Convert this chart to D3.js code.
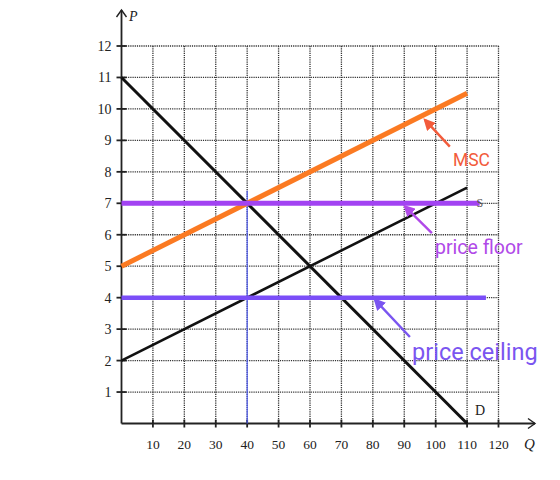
<!DOCTYPE html>
<html><head><meta charset="utf-8">
<script src="https://cdn.jsdelivr.net/npm/d3@7"></script>
<style>html,body{margin:0;padding:0;background:#fff;}svg{display:block;}</style>
</head><body>
<svg id="c" width="560" height="480"></svg>
<script>
// ---- data ----
const xTicks = [10,20,30,40,50,60,70,80,90,100,110,120];
const yTicks = [1,2,3,4,5,6,7,8,9,10,11,12];
const demandQ = [0,110], demandP = [11,0];
const supplyQ = [0,110], supplyP = [2,7.5];
const mscQ = [0,110], mscP = [5,10.5];
const floorQ = [0,114], floorP = [7,7];
const ceilingQ = [0,116], ceilingP = [4,4];
const markQ = [40,40], markP = [0,7.4];
const labels = ["MSC","price floor","price ceiling"];

const svg = d3.select("#c");
const x = d3.scaleLinear().domain([0,120]).range([121.5,498.5]);
const y = d3.scaleLinear().domain([0,12]).range([423.5,46]);

// grid
const g = svg.append("g");
xTicks.forEach(v=>{
  g.append("line").attr("x1",x(v)).attr("x2",x(v)).attr("y1",y(0)).attr("y2",y(12))
   .attr("stroke","#333").attr("stroke-width",1.3).attr("stroke-dasharray","1.2,1");
});
yTicks.forEach(v=>{
  g.append("line").attr("x1",x(0)).attr("x2",x(120)).attr("y1",y(v)).attr("y2",y(v))
   .attr("stroke","#333").attr("stroke-width",1.3).attr("stroke-dasharray","1.2,1");
});

// axes
const ax = svg.append("g").attr("stroke","#222").attr("fill","none");
ax.append("line").attr("x1",x(0)).attr("x2",x(0)).attr("y1",y(0)).attr("y2",10).attr("stroke-width",1.8);
ax.append("path").attr("d",`M${x(0)-5},${17} L${x(0)},${10} L${x(0)+5},${17}`).attr("stroke-width",1.4);
ax.append("line").attr("x1",x(0)).attr("x2",535).attr("y1",y(0)).attr("y2",y(0)).attr("stroke-width",1.8);
ax.append("path").attr("d",`M${528},${y(0)-5} L${535},${y(0)} L${528},${y(0)+5}`).attr("stroke-width",1.4);
yTicks.forEach(v=>{
  ax.append("line").attr("x1",x(0)-5).attr("x2",x(0)+5).attr("y1",y(v)).attr("y2",y(v)).attr("stroke-width",1.8);
});
xTicks.forEach(v=>{
  ax.append("line").attr("x1",x(v)).attr("x2",x(v)).attr("y1",y(0)-4).attr("y2",y(0)+4).attr("stroke-width",1.8);
});
const serif = "'Liberation Serif','DejaVu Serif',serif";
svg.append("g").selectAll("text").data(yTicks).join("text")
  .attr("x",x(0)-10).attr("y",d=>y(d)+5).attr("text-anchor","end")
  .attr("font-family",serif).attr("font-size",14).attr("fill","#222").text(d=>d);
svg.append("g").selectAll("text").data(xTicks).join("text")
  .attr("x",d=>x(d)).attr("y",449).attr("text-anchor","middle")
  .attr("font-family",serif).attr("font-size",13.5).attr("fill","#222").text(d=>d);
svg.append("text").attr("x",129).attr("y",21).attr("font-family",serif).attr("font-style","italic")
  .attr("font-size",14).attr("fill","#222").text("P");
svg.append("text").attr("x",524).attr("y",449).attr("font-family",serif).attr("font-style","italic")
  .attr("font-size",15).attr("fill","#222").text("Q");

// lines
const line = (qs,ps)=>d3.line()(qs.map((q,i)=>[x(q),y(ps[i])]));
svg.append("path").attr("d",line(markQ,markP)).attr("stroke","#4f5cf2").attr("stroke-width",1.2).attr("fill","none");
svg.append("path").attr("d",line(demandQ,demandP)).attr("stroke","#111").attr("stroke-width",3).attr("fill","none");
svg.append("path").attr("d",line(supplyQ,supplyP)).attr("stroke","#111").attr("stroke-width",2.6).attr("fill","none");
svg.append("path").attr("d",line(mscQ,mscP)).attr("stroke","#fb7a22").attr("stroke-width",5).attr("fill","none");
svg.append("path").attr("d",line(floorQ,floorP)).attr("stroke","#a243f2").attr("stroke-width",5).attr("fill","none");
svg.append("path").attr("d",line(ceilingQ,ceilingP)).attr("stroke","#7b4ef8").attr("stroke-width",4.5).attr("fill","none");

svg.append("text").attr("x",x(110)+8).attr("y",y(0)-9).attr("font-family",serif)
  .attr("font-size",14).attr("fill","#222").text("D");
svg.append("text").attr("x",x(113)).attr("y",y(7)+4).attr("font-family",serif)
  .attr("font-size",12).attr("fill","#555").text("S");

// annotations
const sans = "Roboto,'Noto Sans',sans-serif";
const defs = svg.append("defs");
function arrow(id,color){
  defs.append("marker").attr("id",id).attr("viewBox","0 0 10 10").attr("refX",8).attr("refY",5)
    .attr("markerWidth",5).attr("markerHeight",5).attr("orient","auto")
    .append("path").attr("d","M0,0 L10,5 L0,10 z").attr("fill",color);
}
const ann = [
  {t:labels[0], c:"#f25b3b", tail:[104.5,8.8], tip:[96.6,9.65], pos:[105.5,8.2], fs:17.5},
  {t:labels[1], c:"#b049e8", tail:[98.8,6.05], tip:[90.2,6.9], pos:[99.8,5.4], fs:19.5},
  {t:labels[2], c:"#7a55f0", tail:[91.8,2.75], tip:[80.7,3.93], pos:[92.5,2.02], fs:23.5}
];
ann.forEach((a,i)=>{
  arrow("a"+i,a.c);
  svg.append("line").attr("x1",x(a.tail[0])).attr("y1",y(a.tail[1]))
    .attr("x2",x(a.tip[0])).attr("y2",y(a.tip[1]))
    .attr("stroke",a.c).attr("stroke-width",2.4).attr("marker-end",`url(#a${i})`);
  svg.append("text").attr("x",x(a.pos[0])).attr("y",y(a.pos[1])).attr("font-family",sans)
    .attr("font-size",a.fs).attr("fill",a.c).text(a.t);
});
</script>
</body></html>
